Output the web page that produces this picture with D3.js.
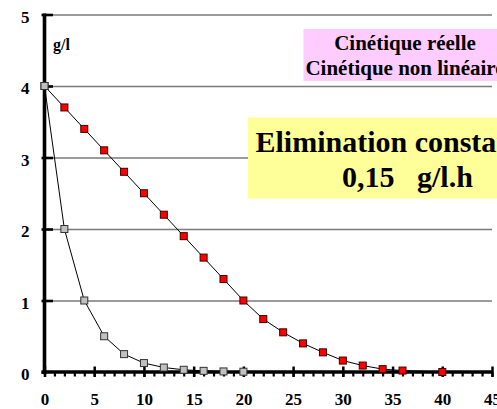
<!DOCTYPE html>
<html>
<head>
<meta charset="utf-8">
<script src="https://cdn.jsdelivr.net/npm/d3@7"></script>
<style>
  html, body { margin: 0; padding: 0; background: #fff; }
  svg { display: block; }
  svg text { font-family: "Liberation Serif", "DejaVu Serif", "Times New Roman", Times, serif !important; font-weight: bold; fill: #000; }
</style>
</head>
<body>
<svg id="chart" width="497" height="409"></svg>
<script>
// ---- data ----
const redX = [0, 2, 4, 6, 8, 10, 12, 14, 16, 18, 20, 22, 24, 26, 28, 30, 32, 34, 36, 40];
const redY = [4, 3.7, 3.4, 3.1, 2.8, 2.5, 2.2, 1.9, 1.6, 1.3, 1.0, 0.74, 0.555, 0.40, 0.275, 0.16, 0.09, 0.04, 0.02, 0.0];
const grayX = [0, 2, 4, 6, 8, 10, 12, 14, 16, 18, 20];
const grayY = [4, 2, 1, 0.5, 0.25, 0.125, 0.0625, 0.031, 0.016, 0.008, 0.004];
const xTicks = [0, 5, 10, 15, 20, 25, 30, 35, 40, 45];
const yTicks = [0, 1, 2, 3, 4, 5];
const yLabel = "g/l";
const legendLines = ["Cinétique réelle", "Cinétique non linéaire"];
const noteLines = ["Elimination constante", "0,15   g/l.h"];

// ---- layout ----
const FONT = "'Liberation Serif', 'DejaVu Serif', 'Times New Roman', Times, serif";
const svg = d3.select("#chart");
const x = d3.scaleLinear().domain([0, 45]).range([44.5, 492]);
const y = d3.scaleLinear().domain([0, 5]).range([372, 14.5]);

// gridlines
const grid = svg.append("g").attr("transform", `translate(${x(0)},0)`)
  .call(d3.axisLeft(y).tickValues(yTicks.filter(v => v > 0)).tickSize(-(x(45) - x(0))).tickFormat(""));
grid.select(".domain").remove();
grid.selectAll("line").attr("stroke", "#7a7a7a").attr("stroke-width", 1.4);

// minor x ticks
const minor = svg.append("g").attr("transform", `translate(0,${y(0)})`)
  .call(d3.axisBottom(x).tickValues(d3.range(0, 46)).tickSize(4.5).tickFormat(""));
minor.select(".domain").remove();
minor.selectAll("line").attr("stroke", "#000").attr("stroke-width", 2.2);

// x axis
const xa = svg.append("g").attr("transform", `translate(0,${y(0)})`)
  .attr("font-family", FONT)
  .call(d3.axisBottom(x).tickValues(xTicks).tickSize(5).tickFormat(d3.format("d")));
xa.attr("font-family", FONT).attr("font-size", 17);
xa.select(".domain").attr("d", `M${x(0) - 3},0H${x(45) + 1}`).attr("stroke", "#000").attr("stroke-width", 3.5);
xa.selectAll(".tick line").attr("y1", -5.5).attr("y2", 5).attr("stroke", "#000").attr("stroke-width", 2.5);
xa.selectAll(".tick text").attr("y", 33).attr("dy", 0).attr("font-family", FONT)
  .style("font-size", "17px").style("font-weight", "bold");

// y axis
const ya = svg.append("g").attr("transform", `translate(${x(0)},0)`)
  .call(d3.axisLeft(y).tickValues(yTicks).tickSize(3).tickFormat(d3.format("d")));
ya.attr("font-family", FONT).attr("font-size", 17);
ya.select(".domain").attr("d", `M0,${y(5) - 1}V${y(0) + 2}`).attr("stroke", "#000").attr("stroke-width", 3.6);
ya.selectAll(".tick line").attr("x1", -3).attr("x2", 8.5).attr("stroke", "#000").attr("stroke-width", 2.6);
ya.selectAll(".tick text").attr("x", -15).attr("dy", "0.45em").attr("font-family", FONT)
  .style("font-size", "17px").style("font-weight", "bold");
ya.selectAll(".tick").filter(d => d === 0).select("line").attr("x2", 0);

// unit label
svg.append("text").attr("x", 53).attr("y", 50).attr("font-family", FONT).style("font-size", "16px").text(yLabel);

// series
const line = d3.line().x(d => x(d[0])).y(d => y(d[1]));
const red = redX.map((v, i) => [v, redY[i]]);
const gray = grayX.map((v, i) => [v, grayY[i]]);
const ms = 7;

function drawSeries(data, fill, stroke) {
  svg.append("path").datum(data).attr("d", line)
    .attr("fill", "none").attr("stroke", "#000").attr("stroke-width", 1);
  svg.append("g").selectAll("rect").data(data).join("rect")
    .attr("x", d => x(d[0]) - ms / 2).attr("y", d => y(d[1]) - ms / 2)
    .attr("width", ms).attr("height", ms)
    .attr("fill", fill).attr("stroke", stroke).attr("stroke-width", 1);
}
drawSeries(red, "#ff0000", "#400000");
drawSeries(gray, "#c0c0c0", "#333");

// legend box
svg.append("rect").attr("x", 303.5).attr("y", 29).attr("width", 200).attr("height", 52).attr("fill", "#ffccff");
legendLines.forEach((t, i) => {
  svg.append("text").attr("x", 405).attr("y", 50 + i * 25).attr("text-anchor", "middle")
    .attr("font-family", FONT).style("font-size", "21px").text(t);
});

// note box
svg.append("rect").attr("x", 248).attr("y", 117.5).attr("width", 260).attr("height", 81).attr("fill", "#ffff99");
svg.append("text").attr("x", 255.5).attr("y", 152).attr("font-family", FONT).style("font-size", "30px").text(noteLines[0]);
svg.append("text").attr("x", 342).attr("y", 186.5).attr("font-family", FONT).style("font-size", "30px").style("white-space", "pre")
  .attr("xml:space", "preserve").text(noteLines[1]);
</script>
</body>
</html>
